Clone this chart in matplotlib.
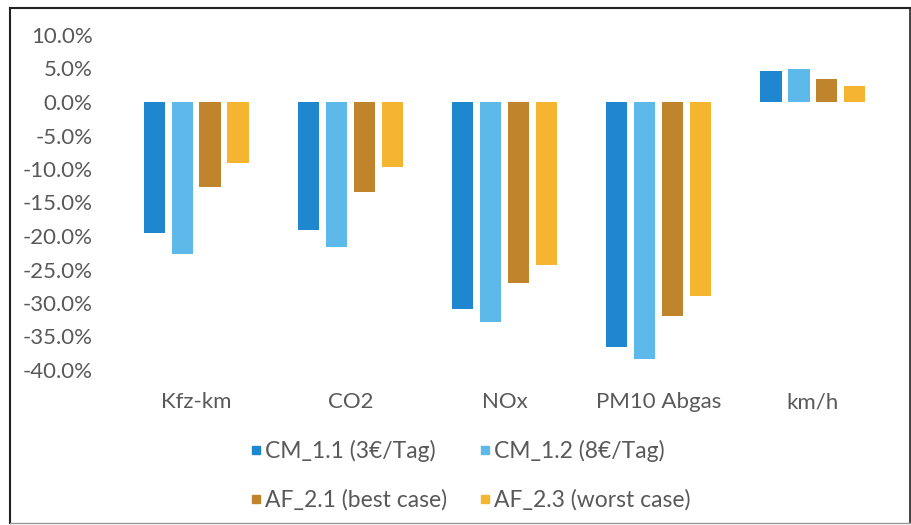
## grouped bar chart: relative changes per indicator for four scenarios
import matplotlib.pyplot as plt
from matplotlib.ticker import PercentFormatter
from matplotlib.lines import Line2D
import numpy as np

## data (fractions)
categories = ["Kfz-km", "CO2", "NOx", "PM10 Abgas", "km/h"]
cm_11 = [-0.195, -0.191, -0.309, -0.365, 0.046]
cm_12 = [-0.227, -0.216, -0.328, -0.384, 0.049]
af_21 = [-0.127, -0.135, -0.270, -0.319, 0.034]
af_23 = [-0.091, -0.097, -0.243, -0.289, 0.024]
series_names = ["CM_1.1 (3€/Tag)", "CM_1.2 (8€/Tag)", "AF_2.1 (best case)", "AF_2.3 (worst case)"]
yticks = [0.10, 0.05, 0.0, -0.05, -0.10, -0.15, -0.20, -0.25, -0.30, -0.35, -0.40]

colors = ["#1f87d0", "#5cb9e9", "#c0842c", "#f6b530"]
text_col = "#595959"

plt.rcParams['font.family'] = ['Lato', 'DejaVu Sans']
plt.rcParams['axes.unicode_minus'] = False

fig = plt.figure(figsize=(9.12, 5.25), dpi=100)
ax = fig.add_axes([119 / 912, 1 - 370 / 525, (890 - 119) / 912, (370 - 35) / 525])

x = np.arange(len(categories))
step = 0.181
width = 0.137
all_series = [cm_11, cm_12, af_21, af_23]
for i, vals in enumerate(all_series):
    ax.bar(x + (i - 1.5) * step, vals, width=width, color=colors[i], label=series_names[i])

ax.set_xlim(-0.5, len(categories) - 0.5)
ax.set_ylim(-0.40, 0.10)
ax.set_yticks(yticks)
ax.yaxis.set_major_formatter(PercentFormatter(1.0, decimals=1))
ax.set_xticks(x)
ax.set_xticklabels(categories)
ax.tick_params(axis='both', length=0, labelsize=16, colors=text_col)
ax.tick_params(axis='y', pad=19)
ax.tick_params(axis='x', pad=16)
for s in ax.spines.values():
    s.set_visible(False)

## legend in two rows below the axis, small square markers
## (order so that rows read CM_1.1, CM_1.2 / AF_2.1, AF_2.3)
order = [0, 2, 1, 3]
handles = [Line2D([], [], marker='s', linestyle='none', markersize=6,
                  color=colors[i]) for i in order]
labels = [series_names[i] for i in order]
fig.legend(handles, labels, loc='upper left', ncol=2, frameon=False,
           bbox_to_anchor=(227 / 912, 1 - 419 / 525), fontsize=16.5,
           labelcolor=text_col, handletextpad=0.05, columnspacing=1.3,
           labelspacing=1.2, handlelength=0.7)

## outer frame of the chart
fig.add_artist(Line2D([10 / 912, 10 / 912], [1 - 8 / 525, 1 - 523 / 525], color="#222222", lw=1.5))
fig.add_artist(Line2D([10 / 912, 910 / 912], [1 - 8 / 525, 1 - 8 / 525], color="#222222", lw=1.5))
fig.add_artist(Line2D([910 / 912, 910 / 912], [1 - 8 / 525, 1 - 523 / 525], color="#222222", lw=1.2))
fig.add_artist(Line2D([10 / 912, 910 / 912], [1 - 523 / 525, 1 - 523 / 525], color="#999999", lw=1.0))

fig.savefig("out.png", dpi=100)
